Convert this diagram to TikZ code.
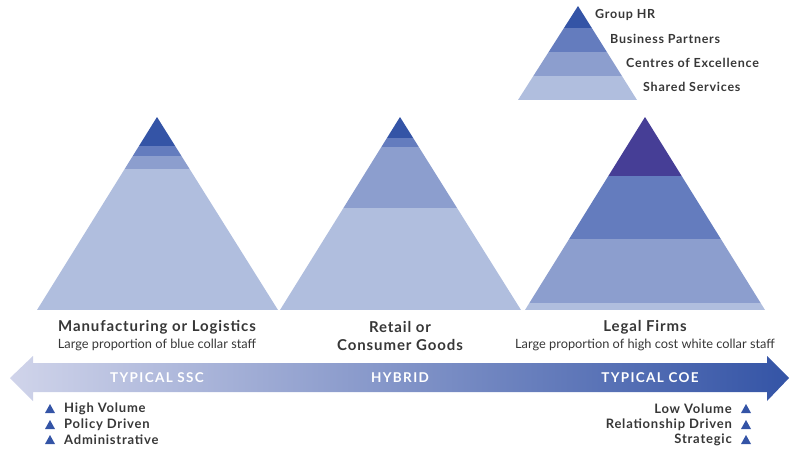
\documentclass[tikz,border=0pt]{standalone}
\usepackage{fontspec}
\setmainfont{Lato}
\newfontfamily\widefont{Lato}[LetterSpace=6.0]
\newfontfamily\bandfont{Lato}[LetterSpace=10.0]
\usepackage{tikz}
\usetikzlibrary{positioning}
\definecolor{HRblue}{RGB}{52,84,166}
\definecolor{HRpurple}{RGB}{70,62,150}
\definecolor{BPblue}{RGB}{100,124,190}
\definecolor{COEblue}{RGB}{140,158,206}
\definecolor{SSblue}{RGB}{176,190,222}
\definecolor{ArrowLight}{RGB}{208,212,234}
\definecolor{ArrowDark}{RGB}{52,84,166}
\definecolor{TxtGray}{RGB}{55,55,55}

\begin{document}
\begin{tikzpicture}[x=1pt,y=-1pt,
    every node/.style={inner sep=0pt,text=TxtGray},
    title/.style={font=\widefont\bfseries\fontsize{15}{17}\selectfont},
    sub/.style={font=\fontsize{12.8}{14}\selectfont},
    key/.style={font=\widefont\bfseries\fontsize{12.5}{14}\selectfont,anchor=west},
    band/.style={font=\bandfont\bfseries\fontsize{13.5}{15}\selectfont,text=white},
    point/.style={font=\widefont\bfseries\fontsize{13}{15}\selectfont}]
  \useasboundingbox (0,0) rectangle (800,455);

  % key pyramid
  \begin{scope}
    \clip (578,6) -- (637,100) -- (518,100) -- cycle;
    \fill[HRblue] (510,0) rectangle (650,28);
    \fill[BPblue] (510,28) rectangle (650,52);
    \fill[COEblue] (510,52) rectangle (650,76);
    \fill[SSblue] (510,76) rectangle (650,100);
  \end{scope}
  \node[key] (grouphr) at (595,15) {Group HR};
  \node[key] (partners) at (610,39) {Business Partners};
  \node[key] (excellence) at (626,63) {Centres of Excellence};
  \node[key] (shared) at (643,87) {Shared Services};

  % manufacturing
  \begin{scope}
    \clip (157,117) -- (278,310) -- (37,310) -- cycle;
    \fill[HRblue] (30,110) rectangle (285,146);
    \fill[BPblue] (30,146) rectangle (285,156);
    \fill[COEblue] (30,156) rectangle (285,169);
    \fill[SSblue] (30,169) rectangle (285,310);
  \end{scope}

  % retail
  \begin{scope}
    \clip (400,117) -- (521,310) -- (280,310) -- cycle;
    \fill[HRblue] (275,110) rectangle (530,138);
    \fill[BPblue] (275,138) rectangle (530,147);
    \fill[COEblue] (275,147) rectangle (530,208);
    \fill[SSblue] (275,208) rectangle (530,310);
  \end{scope}

  % legal
  \begin{scope}
    \clip (645,117) -- (765,310) -- (525,310) -- cycle;
    \fill[HRpurple] (520,110) rectangle (770,176);
    \fill[BPblue] (520,176) rectangle (770,239);
    \fill[COEblue] (520,239) rectangle (770,303);
    \fill[SSblue] (520,303) rectangle (770,310);
  \end{scope}

  \node[title] (manu) at (157,327) {Manufacturing or Logistics};
  \node[sub] (manusub) at (157,345) {Large proportion of blue collar staff};
  \node[title] (retail) at (400,327) {Retail or};
  \node[title] (consumer) at (400,345) {Consumer Goods};
  \node[title] (legal) at (645,327) {Legal Firms};
  \node[sub] (legalsub) at (645,345) {Large proportion of high cost white collar staff};

  % scale arrow
  \shade[left color=ArrowLight, right color=ArrowDark]
    (10,378) -- (33,356) -- (33,363) -- (767,363) -- (767,356) -- (789,378)
    -- (767,401) -- (767,392) -- (33,392) -- (33,401) -- cycle;
  \node[band] (ssc) at (157,378) {TYPICAL SSC};
  \node[band] (hybrid) at (400,378) {HYBRID};
  \node[band] (coe) at (650,378) {TYPICAL COE};

  % traits
  \foreach \y/\txt/\nm in {409/High Volume/hv, 425/Policy Driven/pd, 440/Administrative/ad} {
    \fill[HRblue] (45,\y+4) -- (55,\y+4) -- (50,\y-5) -- cycle;
    \node[point, anchor=west] (\nm) at (64,\y) {\txt};
  }
  \foreach \y/\txt/\nm in {409/Low Volume/lv, 425/Relationship Driven/rd, 440/Strategic/st} {
    \fill[HRblue] (741,\y+4) -- (751,\y+4) -- (746,\y-5) -- cycle;
    \node[point, anchor=east] (\nm) at (732,\y) {\txt};
  }
\end{tikzpicture}
\end{document}
